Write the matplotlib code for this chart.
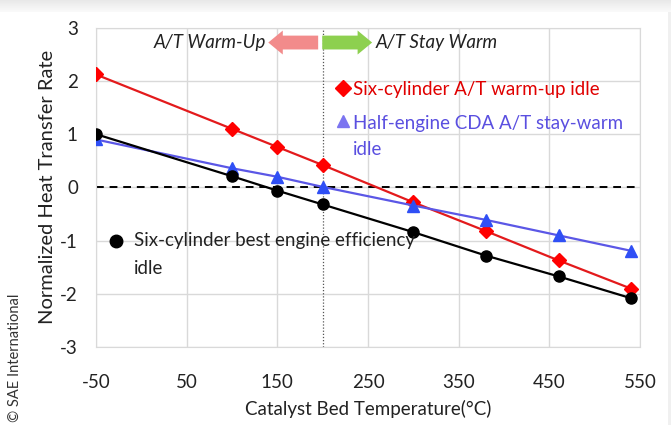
import matplotlib
matplotlib.use("Agg")
import matplotlib.pyplot as plt
from matplotlib.patches import FancyArrow, Rectangle
import numpy as np

plt.rcParams['font.family'] = ['Lato', 'DejaVu Sans']
plt.rcParams['axes.unicode_minus'] = False

temps = [-50, 100, 150, 200, 300, 380, 460, 540]
red_vals = [2.12, 1.1, 0.76, 0.42, -0.28, -0.82, -1.37, -1.9]
black_vals = [1.0, 0.21, -0.06, -0.32, -0.84, -1.28, -1.67, -2.08]
blue_vals = [0.9, 0.36, 0.2, 0.01, -0.34, -0.61, -0.9, -1.19]
xticks = [-50, 50, 150, 250, 350, 450, 550]
yticks = [-3, -2, -1, 0, 1, 2, 3]

W, H = 671, 425
fig = plt.figure(figsize=(6.71, 4.25), dpi=100)
fig.patch.set_facecolor('white')

# subtle page background: light gray band at top
bg = fig.add_axes([0, 0, 1, 1], zorder=-10)
bg.set_xlim(0, W); bg.set_ylim(H, 0); bg.axis('off')
grad = np.linspace(0.91, 0.975, 12).reshape(-1, 1)
bg.imshow(np.repeat(grad, 2, axis=1), cmap='gray', vmin=0, vmax=1, extent=[0, W, 12, 0], aspect='auto')
bg.add_patch(Rectangle((668, 12), 3, H, color='#f0f0f0', lw=0))

ax = fig.add_axes([0.143, 0.183, 0.811, 0.752])

ax.plot(temps, red_vals, color='#e31a1c', lw=1.6, marker='D', ms=7, mfc='#ff0000', mec='#ff0000', zorder=3)
ax.plot(temps, blue_vals, color='#5b57e6', lw=1.6, marker='^', ms=8, mfc='#2f4ff5', mec='#2f4ff5', zorder=3)
ax.plot(temps, black_vals, color='black', lw=1.6, marker='o', ms=8, mfc='black', mec='black', zorder=3)

ax.axhline(0, color='black', ls=(0, (4, 3)), lw=1.4, zorder=2)
ax.axvline(200, color='#555555', ls=(0, (1, 1.5)), lw=0.9, zorder=2)

ax.set_xlim(-50, 550)
ax.set_ylim(-3, 3)
ax.set_xticks(xticks)
ax.set_yticks(yticks)
ax.grid(True, color='#d9d9d9', lw=1)
ax.set_axisbelow(True)
for s in ax.spines.values():
    s.set_color('#d9d9d9')
ax.tick_params(length=0, labelsize=13.5, colors='#222222')
ax.tick_params(axis='x', pad=19)
ax.tick_params(axis='y', pad=13)
ax.set_xlabel('Catalyst Bed Temperature(°C)', fontsize=13.5, labelpad=7, color='#222222')
ax.set_ylabel('Normalized Heat Transfer Rate', fontsize=14.5, labelpad=3, color='#222222')

# arrows
ax.add_patch(FancyArrow(195, 2.72, -55, 0, width=0.26, head_width=0.45, head_length=16,
                        length_includes_head=True, color='#f28b8b', lw=0, zorder=4))
ax.add_patch(FancyArrow(199.5, 2.72, 55, 0, width=0.26, head_width=0.45, head_length=16,
                        length_includes_head=True, color='#8dd04f', lw=0, zorder=4))
ax.text(138, 2.72, 'A/T Warm-Up', ha='right', va='center', fontsize=13.5, style='italic', color='#222222')
ax.text(258, 2.72, 'A/T Stay Warm', ha='left', va='center', fontsize=13.5, style='italic', color='#222222')

# inline legends
ax.plot([222], [1.86], marker='D', ms=8, color='#ff0000', zorder=5, clip_on=False)
ax.text(233, 1.84, 'Six-cylinder A/T warm-up idle', ha='left', va='center', fontsize=13.5, color='#e00000')
ax.plot([222], [1.24], marker='^', ms=8, color='#7b74f0', zorder=5, clip_on=False)
ax.text(233, 1.20, 'Half-engine CDA A/T stay-warm', ha='left', va='center', fontsize=13.5, color='#5a4fe0')
ax.text(233, 0.72, 'idle', ha='left', va='center', fontsize=13.5, color='#5a4fe0')
ax.plot([-28], [-1.0], marker='o', ms=9, color='black', zorder=5)
ax.text(-8, -1.0, 'Six-cylinder best engine efficiency', ha='left', va='center', fontsize=13.5, color='#222222')
ax.text(-8, -1.52, 'idle', ha='left', va='center', fontsize=13.5, color='#222222')

fig.text(0.012, 0.006, '© SAE International', rotation=90, fontsize=10.5, color='#333333', ha='left', va='bottom')

fig.savefig('out.png', dpi=100, facecolor='white')
